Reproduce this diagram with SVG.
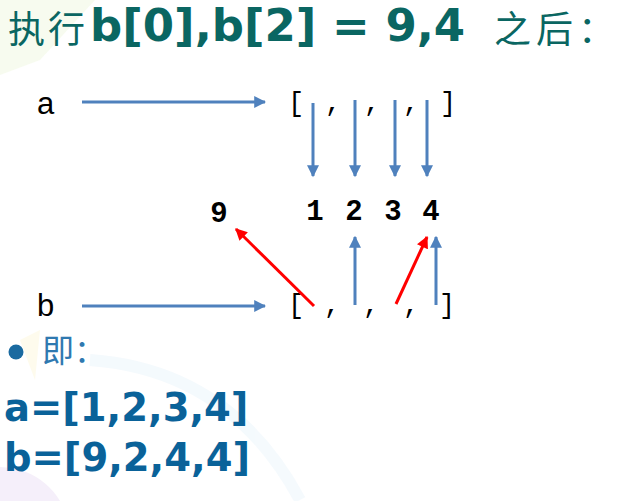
<svg xmlns="http://www.w3.org/2000/svg" width="631" height="501" viewBox="0 0 631 501">
  <style>
    .title-b { font-family: "DejaVu Sans", Verdana, sans-serif; font-weight: bold; fill: #0a6662; }
    .title-c { font-family: "Noto Sans CJK SC", sans-serif; fill: #0a6662; }
    .lbl { font-family: "Liberation Sans", Arial, sans-serif; font-size: 31px; fill: #000; }
    .arr { font-family: "Liberation Mono", "Courier New", monospace; font-size: 27px; fill: #000; text-anchor: middle; }
    .num { font-family: "Liberation Mono", "Courier New", monospace; font-size: 29px; font-weight: bold; fill: #000; text-anchor: middle; }
    .res { font-family: "DejaVu Sans", Verdana, sans-serif; font-weight: bold; font-size: 38.5px; fill: #0a6299; }
    .blue { stroke: #4f81bd; stroke-width: 3; fill: none; }
    .red { stroke: #ff0000; stroke-width: 3; fill: none; }
  </style>
  <defs>
    <marker id="hb" viewBox="0 0 10 10" refX="9" refY="5" markerWidth="4.2" markerHeight="4" orient="auto" markerUnits="strokeWidth">
      <path d="M0,0 L10,5 L0,10 z" fill="#4f81bd"/>
    </marker>
    <marker id="hr" viewBox="0 0 10 10" refX="9" refY="5" markerWidth="4.2" markerHeight="4" orient="auto" markerUnits="strokeWidth">
      <path d="M0,0 L10,5 L0,10 z" fill="#ff0000"/>
    </marker>
  </defs>
  <rect width="631" height="501" fill="#ffffff"/>
  <g id="background" opacity="0.45">
    <polygon points="0,0 95,0 40,60 0,75" fill="#eef6dc"/>
    <path d="M-20,470 A70,70 0 0,1 60,501 L-20,501 z" fill="#eadcf5"/>
    <path d="M90,360 Q230,370 300,500" stroke="#e8f4fb" stroke-width="12" fill="none"/>
    <polygon points="20,340 40,330 35,380" fill="#fdf8d8"/>
  </g>

  <g id="title">
    <text class="title-c" x="8" y="43" font-size="37" letter-spacing="3">执行</text>
    <text class="title-b" x="90" y="41" font-size="45">b[0],b[2] = 9,4</text>
    <text class="title-c" x="494" y="43" font-size="37" letter-spacing="5">之后：</text>
  </g>

  <g id="node-a"><text class="lbl" x="37" y="114">a</text></g>
  <g id="node-b"><text class="lbl" x="37" y="316">b</text></g>

  <g id="list-a">
    <text class="arr" x="296" y="111">[</text>
    <text class="arr" x="333" y="111">,</text>
    <text class="arr" x="372" y="111">,</text>
    <text class="arr" x="411" y="111">,</text>
    <text class="arr" x="448" y="111">]</text>
  </g>

  <g id="list-b">
    <text class="arr" x="296" y="313">[</text>
    <text class="arr" x="332" y="313">,</text>
    <text class="arr" x="371" y="313">,</text>
    <text class="arr" x="411" y="313">,</text>
    <text class="arr" x="447" y="313">]</text>
  </g>

  <g id="values">
    <text class="num" x="219" y="222">9</text>
    <text class="num" x="315" y="220">1</text>
    <text class="num" x="354" y="220">2</text>
    <text class="num" x="393" y="220">3</text>
    <text class="num" x="431" y="220">4</text>
  </g>

  <g id="connectors">
    <line class="blue" x1="82" y1="102" x2="265" y2="102" marker-end="url(#hb)"/>
    <line class="blue" x1="82" y1="306" x2="265" y2="306" marker-end="url(#hb)"/>
    <line class="blue" x1="313" y1="103" x2="313" y2="176" marker-end="url(#hb)"/>
    <line class="blue" x1="355" y1="100" x2="355" y2="176" marker-end="url(#hb)"/>
    <line class="blue" x1="395" y1="100" x2="395" y2="176" marker-end="url(#hb)"/>
    <line class="blue" x1="427" y1="100" x2="427" y2="176" marker-end="url(#hb)"/>
    <line class="blue" x1="355" y1="305" x2="355" y2="237" marker-end="url(#hb)"/>
    <line class="blue" x1="436" y1="305" x2="436" y2="237" marker-end="url(#hb)"/>
    <line class="red" x1="314" y1="306" x2="236" y2="229" marker-end="url(#hr)"/>
    <line class="red" x1="396" y1="304" x2="427" y2="237" marker-end="url(#hr)"/>
  </g>

  <g id="summary">
    <circle cx="16" cy="352" r="7.5" fill="#1a6aa0"/>
    <text x="42" y="362" font-family="Noto Sans CJK SC, sans-serif" font-size="32" fill="#2f79b0">即：</text>
    <text class="res" x="4" y="421">a=[1,2,3,4]</text>
    <text class="res" x="4" y="471">b=[9,2,4,4]</text>
  </g>
</svg>
